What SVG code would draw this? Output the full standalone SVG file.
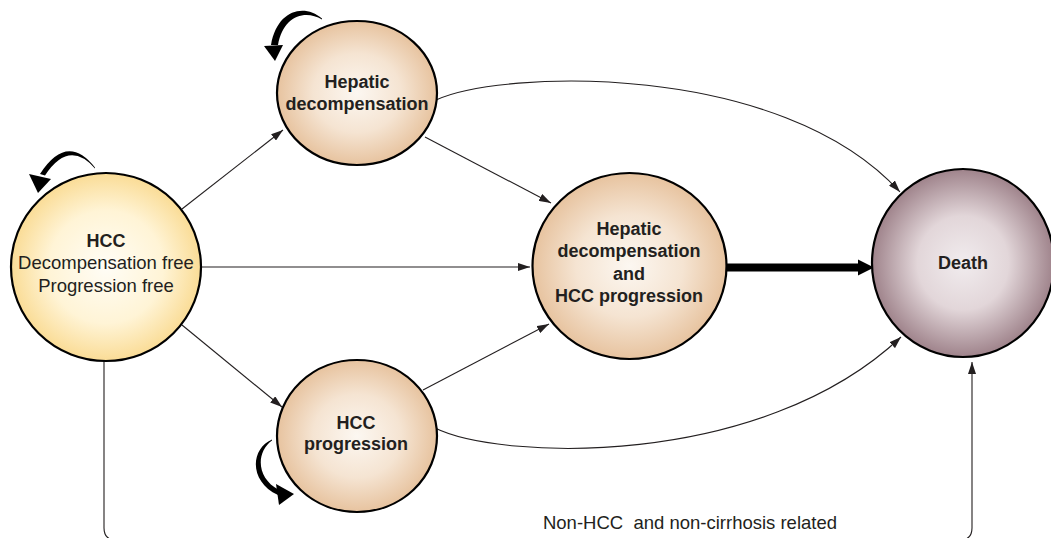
<svg xmlns="http://www.w3.org/2000/svg" width="1051" height="538" viewBox="0 0 1051 538">
<defs>
<radialGradient id="gHCC" cx="50%" cy="50%" r="50%">
<stop offset="0" stop-color="#fffdf6"/>
<stop offset="0.6" stop-color="#fff4d6"/>
<stop offset="1" stop-color="#fadc96"/>
</radialGradient>
<radialGradient id="gTan" cx="50%" cy="50%" r="50%">
<stop offset="0" stop-color="#fcf7f1"/>
<stop offset="0.55" stop-color="#f5e4d2"/>
<stop offset="1" stop-color="#e7c39f"/>
</radialGradient>
<radialGradient id="gDeath" cx="50%" cy="50%" r="50%">
<stop offset="0" stop-color="#f1ecee"/>
<stop offset="0.5" stop-color="#e2d6d9"/>
<stop offset="1" stop-color="#9f838b"/>
</radialGradient>
<marker id="arr" viewBox="0 0 12 8" refX="12" refY="4" markerWidth="12" markerHeight="8" markerUnits="userSpaceOnUse" orient="auto">
<path d="M0,0 L12,4 L0,8 Z" fill="#231f20"/>
</marker>
<style>
.node{stroke:#000;stroke-width:2.2}
.conn{fill:none;stroke:#231f20;stroke-width:1.1;marker-end:url(#arr)}
.loop{fill:#000;stroke:none}
text{font-family:"Liberation Sans",Arial,Helvetica,sans-serif;fill:#231f20;text-anchor:middle}
.b{font-weight:bold;font-size:18px}
.r{font-size:18.5px}
</style>
</defs>
<rect width="1051" height="538" fill="#fff"/>

<g id="connectors">
<path class="conn" d="M182 209 L283 130"/>
<path class="conn" d="M200 267 L530 267"/>
<path class="conn" d="M182 325 L282 407"/>
<path class="conn" d="M425 137 L551 203"/>
<path class="conn" d="M436 100 C500 70, 780 60, 900 192"/>
<path class="conn" d="M423 390 L549 324"/>
<path class="conn" d="M435 428 C500 460, 760 470, 901 337"/>
<path class="conn" d="M104 361 V528 Q104 540 116 540 H960 Q972 540 972 528 V362"/>
<line x1="727" y1="267.5" x2="862" y2="267.5" stroke="#000" stroke-width="8"/>
<polygon points="858,259.5 874,267.5 858,275.5" fill="#000"/>
</g>

<g id="node-hcc">
<ellipse class="node" cx="106" cy="267" rx="95" ry="94" fill="url(#gHCC)"/>
<path class="loop" d="M95 167.5 Q67 132 40 174 L45 175.5 Q69 139 95 168.5 Z"/>
<polygon class="loop" points="29,174 51,179 38,193"/>
<text class="b" x="106" y="247">HCC</text>
<text class="r" x="106" y="269">Decompensation free</text>
<text class="r" x="106" y="292">Progression free</text>
</g>

<g id="node-hepatic-decomp">
<ellipse class="node" cx="357" cy="93" rx="80" ry="72" fill="url(#gTan)"/>
<path class="loop" d="M322 18.5 C304 3, 277 10, 271 45 L278 45 C283 16, 305 9, 322 19.5 Z"/>
<polygon class="loop" points="264,46 283,45 275,61"/>
<text class="b" x="357" y="88">Hepatic</text>
<text class="b" x="357" y="110">decompensation</text>
</g>

<g id="node-hcc-progression">
<ellipse class="node" cx="357" cy="436" rx="80" ry="76" fill="url(#gTan)"/>
<path class="loop" d="M272 439.5 C250 449, 249 482, 278 495 L279 490 C256 478, 256 452, 272 440.5 Z"/>
<polygon class="loop" points="276,484 294,494 279,505"/>
<text class="b" x="356" y="429">HCC</text>
<text class="b" x="356" y="450">progression</text>
</g>

<g id="node-both">
<ellipse class="node" cx="629.5" cy="266" rx="97" ry="93" fill="url(#gTan)"/>
<text class="b" x="629" y="235">Hepatic</text>
<text class="b" x="629" y="257">decompensation</text>
<text class="b" x="629" y="280">and</text>
<text class="b" x="629" y="302">HCC progression</text>
</g>

<g id="node-death">
<ellipse class="node" cx="963" cy="263" rx="91" ry="94" fill="url(#gDeath)"/>
<text class="b" x="963" y="269">Death</text>
</g>

<g id="label-bottom">
<text class="r" x="690" y="529" xml:space="preserve">Non-HCC  and non-cirrhosis related</text>
</g>
</svg>
